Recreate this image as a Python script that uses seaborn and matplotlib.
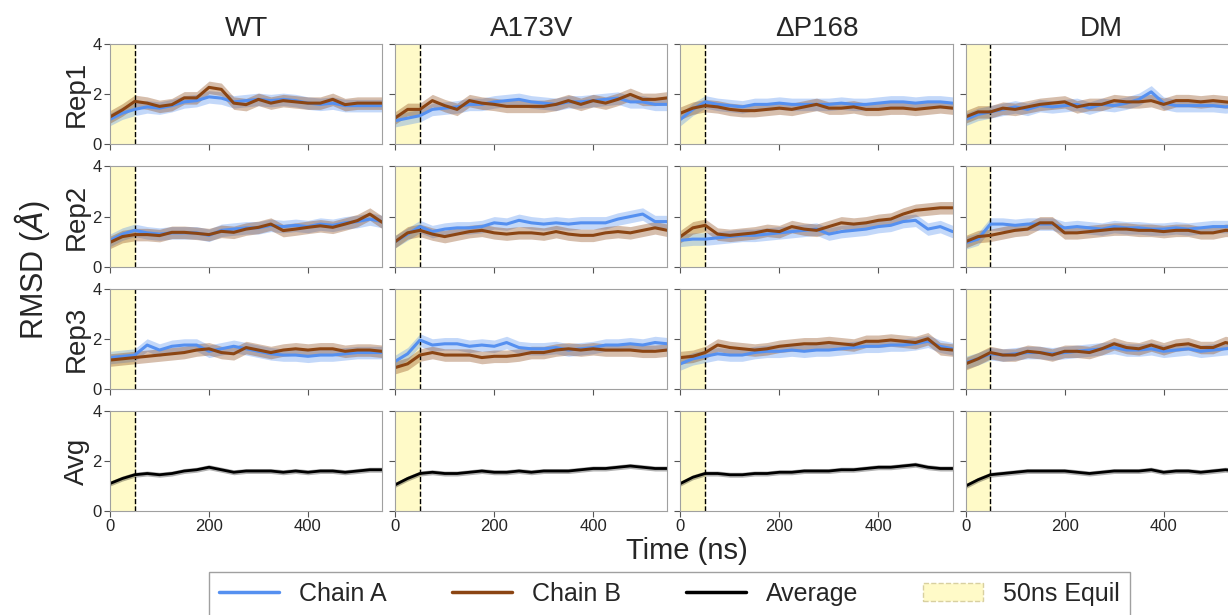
import numpy as np
import pandas as pd
import matplotlib.pyplot as plt
from matplotlib.lines import Line2D
from matplotlib.patches import Patch
import seaborn as sns

# Time axis (ns), values read every 25 ns
time_ns = [0, 25, 50, 75, 100, 125, 150, 175, 200, 225, 250, 275,
           300, 325, 350, 375, 400, 425, 450, 475, 500, 525, 550]

systems = ["WT", "A173V", "ΔP168", "DM"]
reps = ["Rep1", "Rep2", "Rep3"]

# WT
wt_rep1_a = [1.0, 1.25, 1.4, 1.5, 1.45, 1.55, 1.7, 1.75, 1.9, 1.85, 1.7, 1.75, 1.8, 1.75, 1.8, 1.75, 1.65, 1.6, 1.65, 1.55, 1.55, 1.55, 1.55]
wt_rep1_b = [1.1, 1.38, 1.72, 1.65, 1.52, 1.59, 1.86, 1.86, 2.28, 2.2, 1.65, 1.59, 1.8, 1.65, 1.75, 1.7, 1.65, 1.65, 1.8, 1.59, 1.65, 1.65, 1.65]
wt_rep2_a = [1.05, 1.3, 1.45, 1.35, 1.3, 1.35, 1.35, 1.35, 1.25, 1.45, 1.5, 1.55, 1.55, 1.65, 1.6, 1.65, 1.6, 1.7, 1.65, 1.75, 1.8, 1.9, 1.8]
wt_rep2_b = [0.97, 1.2, 1.28, 1.28, 1.24, 1.37, 1.37, 1.33, 1.28, 1.41, 1.37, 1.5, 1.57, 1.7, 1.44, 1.5, 1.57, 1.63, 1.57, 1.7, 1.84, 2.1, 1.77]
wt_rep3_a = [1.25, 1.3, 1.35, 1.75, 1.55, 1.7, 1.75, 1.75, 1.5, 1.6, 1.7, 1.6, 1.5, 1.4, 1.35, 1.35, 1.3, 1.35, 1.35, 1.4, 1.45, 1.45, 1.45]
wt_rep3_b = [1.15, 1.2, 1.25, 1.3, 1.35, 1.4, 1.45, 1.55, 1.6, 1.45, 1.4, 1.65, 1.55, 1.45, 1.55, 1.6, 1.55, 1.6, 1.6, 1.5, 1.55, 1.55, 1.5]
wt_avg = [1.1, 1.3, 1.45, 1.5, 1.45, 1.5, 1.6, 1.65, 1.75, 1.65, 1.55, 1.6, 1.6, 1.6, 1.55, 1.6, 1.55, 1.6, 1.6, 1.55, 1.6, 1.65, 1.65]

# A173V
a173v_rep1_a = [0.95, 1.05, 1.15, 1.4, 1.45, 1.5, 1.6, 1.6, 1.7, 1.75, 1.8, 1.7, 1.65, 1.6, 1.7, 1.7, 1.75, 1.8, 1.85, 1.7, 1.7, 1.6, 1.6]
a173v_rep1_b = [1.06, 1.4, 1.4, 1.75, 1.55, 1.4, 1.75, 1.65, 1.6, 1.52, 1.52, 1.52, 1.52, 1.6, 1.75, 1.6, 1.75, 1.65, 1.8, 2.0, 1.8, 1.8, 1.86]
a173v_rep2_a = [1.0, 1.3, 1.6, 1.4, 1.5, 1.55, 1.55, 1.6, 1.75, 1.7, 1.85, 1.75, 1.7, 1.75, 1.7, 1.75, 1.75, 1.75, 1.9, 2.0, 2.1, 1.8, 1.8]
a173v_rep2_b = [1.0, 1.35, 1.45, 1.3, 1.2, 1.3, 1.4, 1.45, 1.35, 1.3, 1.35, 1.35, 1.3, 1.4, 1.3, 1.25, 1.25, 1.35, 1.4, 1.35, 1.45, 1.55, 1.45]
a173v_rep3_a = [1.1, 1.4, 1.95, 1.75, 1.8, 1.8, 1.7, 1.75, 1.7, 1.85, 1.65, 1.6, 1.6, 1.65, 1.55, 1.6, 1.65, 1.75, 1.75, 1.8, 1.75, 1.85, 1.8]
a173v_rep3_b = [0.85, 1.0, 1.35, 1.45, 1.35, 1.35, 1.35, 1.25, 1.3, 1.3, 1.35, 1.45, 1.45, 1.55, 1.6, 1.55, 1.6, 1.55, 1.55, 1.55, 1.5, 1.5, 1.55]
a173v_avg = [1.05, 1.3, 1.5, 1.55, 1.5, 1.5, 1.55, 1.6, 1.55, 1.55, 1.6, 1.55, 1.6, 1.6, 1.6, 1.65, 1.7, 1.7, 1.75, 1.8, 1.75, 1.7, 1.7]

# ΔP168
dp168_rep1_a = [1.0, 1.4, 1.7, 1.6, 1.55, 1.5, 1.6, 1.6, 1.65, 1.6, 1.6, 1.6, 1.6, 1.65, 1.6, 1.6, 1.65, 1.7, 1.7, 1.65, 1.7, 1.7, 1.65]
dp168_rep1_b = [1.25, 1.45, 1.55, 1.5, 1.4, 1.35, 1.35, 1.4, 1.45, 1.4, 1.5, 1.6, 1.45, 1.45, 1.5, 1.4, 1.4, 1.45, 1.45, 1.4, 1.45, 1.5, 1.45]
dp168_rep2_a = [1.05, 1.1, 1.1, 1.15, 1.2, 1.25, 1.25, 1.3, 1.35, 1.4, 1.45, 1.5, 1.3, 1.4, 1.45, 1.5, 1.6, 1.65, 1.8, 1.85, 1.5, 1.6, 1.4]
dp168_rep2_b = [1.2, 1.55, 1.65, 1.3, 1.25, 1.3, 1.35, 1.45, 1.4, 1.6, 1.5, 1.45, 1.6, 1.75, 1.7, 1.75, 1.85, 1.9, 2.1, 2.25, 2.3, 2.35, 2.35]
dp168_rep3_a = [1.0, 1.2, 1.3, 1.4, 1.35, 1.35, 1.45, 1.5, 1.5, 1.55, 1.5, 1.55, 1.55, 1.6, 1.65, 1.7, 1.7, 1.75, 1.75, 1.8, 1.9, 1.7, 1.6]
dp168_rep3_b = [1.25, 1.3, 1.45, 1.75, 1.65, 1.6, 1.55, 1.6, 1.7, 1.75, 1.8, 1.8, 1.85, 1.8, 1.75, 1.9, 1.9, 1.95, 1.9, 1.85, 2.0, 1.6, 1.55]
dp168_avg = [1.1, 1.35, 1.5, 1.5, 1.45, 1.45, 1.5, 1.5, 1.55, 1.55, 1.6, 1.6, 1.6, 1.65, 1.65, 1.7, 1.75, 1.75, 1.8, 1.85, 1.75, 1.7, 1.7]

# DM
dm_rep1_a = [1.0, 1.2, 1.3, 1.4, 1.5, 1.4, 1.55, 1.5, 1.55, 1.6, 1.45, 1.6, 1.55, 1.65, 1.8, 2.1, 1.65, 1.55, 1.55, 1.55, 1.55, 1.5, 1.55]
dm_rep1_b = [1.1, 1.3, 1.3, 1.45, 1.4, 1.5, 1.6, 1.65, 1.7, 1.5, 1.6, 1.6, 1.75, 1.7, 1.7, 1.75, 1.6, 1.75, 1.75, 1.7, 1.75, 1.7, 1.65]
dm_rep2_a = [0.95, 1.1, 1.7, 1.7, 1.65, 1.7, 1.7, 1.7, 1.55, 1.6, 1.55, 1.5, 1.6, 1.55, 1.55, 1.5, 1.5, 1.55, 1.5, 1.55, 1.6, 1.6, 1.6]
dm_rep2_b = [1.0, 1.2, 1.25, 1.35, 1.45, 1.5, 1.75, 1.75, 1.35, 1.35, 1.4, 1.45, 1.5, 1.5, 1.45, 1.45, 1.4, 1.45, 1.45, 1.35, 1.35, 1.45, 1.45]
dm_rep3_a = [1.05, 1.2, 1.4, 1.35, 1.4, 1.45, 1.45, 1.4, 1.45, 1.5, 1.55, 1.6, 1.65, 1.55, 1.55, 1.6, 1.5, 1.55, 1.6, 1.5, 1.55, 1.6, 1.65]
dm_rep3_b = [1.0, 1.2, 1.45, 1.35, 1.35, 1.5, 1.45, 1.35, 1.5, 1.5, 1.45, 1.6, 1.8, 1.65, 1.6, 1.75, 1.6, 1.75, 1.8, 1.65, 1.65, 1.85, 1.75]
dm_avg = [1.0, 1.25, 1.45, 1.5, 1.55, 1.6, 1.6, 1.6, 1.6, 1.55, 1.5, 1.55, 1.6, 1.6, 1.6, 1.65, 1.55, 1.6, 1.6, 1.55, 1.6, 1.65, 1.6]

chain_a = {
    "WT": [wt_rep1_a, wt_rep2_a, wt_rep3_a],
    "A173V": [a173v_rep1_a, a173v_rep2_a, a173v_rep3_a],
    "ΔP168": [dp168_rep1_a, dp168_rep2_a, dp168_rep3_a],
    "DM": [dm_rep1_a, dm_rep2_a, dm_rep3_a],
}
chain_b = {
    "WT": [wt_rep1_b, wt_rep2_b, wt_rep3_b],
    "A173V": [a173v_rep1_b, a173v_rep2_b, a173v_rep3_b],
    "ΔP168": [dp168_rep1_b, dp168_rep2_b, dp168_rep3_b],
    "DM": [dm_rep1_b, dm_rep2_b, dm_rep3_b],
}
averages = {"WT": wt_avg, "A173V": a173v_avg, "ΔP168": dp168_avg, "DM": dm_avg}

col_a = "#5590f0"
col_b = "#8b4513"
col_equil = "#fffac8"

sns.set_style("ticks", {"axes.edgecolor": "#a0a0a0"})
plt.rcParams["font.family"] = ["Liberation Sans", "DejaVu Sans"]

fig, axes = plt.subplots(4, 4, figsize=(12.28, 6.15), dpi=100, sharex=True, sharey=True)
fig.subplots_adjust(left=0.0896, right=1.008, top=0.928, bottom=0.169,
                    wspace=0.048, hspace=0.22)

t = np.array(time_ns)

def draw_band(ax, y, color, half, alpha):
    y = np.array(y)
    ax.fill_between(t, y - half, y + half, color=color, alpha=alpha, lw=0)

for j, sysname in enumerate(systems):
    for i in range(4):
        ax = axes[i, j]
        ax.axvspan(0, 50, color=col_equil, zorder=0)
        ax.axvline(50, color="black", ls="--", lw=1)
        if i < 3:
            a = chain_a[sysname][i]
            b = chain_b[sysname][i]
            draw_band(ax, a, col_a, 0.25, 0.35)
            draw_band(ax, b, col_b, 0.25, 0.35)
            sns.lineplot(x=t, y=a, ax=ax, color=col_a, lw=2.2)
            sns.lineplot(x=t, y=b, ax=ax, color=col_b, lw=2.2)
        else:
            avg = averages[sysname]
            draw_band(ax, avg, "black", 0.1, 0.3)
            sns.lineplot(x=t, y=avg, ax=ax, color="black", lw=2)
        ax.set_xlim(0, 550)
        ax.set_ylim(0, 4)
        ax.set_yticks([0, 2, 4])
        ax.set_xticks([0, 200, 400])
        ax.tick_params(labelsize=12, length=4, color="#555555", pad=2)
        ax.set_xlabel("")
        ax.set_ylabel("")
        if j == 0:
            ax.set_ylabel(reps[i] if i < 3 else "Avg", fontsize=20, labelpad=2)
    axes[0, j].set_title(sysname, fontsize=20, pad=6)

fig.text(0.026, 0.56, r"RMSD ($\AA$)", rotation=90, fontsize=22, ha="center", va="center")
fig.text(0.559, 0.104, "Time (ns)", fontsize=21, ha="center", va="center")

handles = [
    Line2D([0], [0], color=col_a, lw=2.5),
    Line2D([0], [0], color=col_b, lw=2.5),
    Line2D([0], [0], color="black", lw=2.5),
    Patch(facecolor=col_equil, edgecolor="#d8d0a0", ls="--"),
]
labels = ["Chain A", "Chain B", "Average", "50ns Equil"]
fig.legend(handles, labels, loc="upper center", bbox_to_anchor=(0.545, 0.07),
           ncol=4, fontsize=18, frameon=True, handlelength=2.4,
           columnspacing=2.6, handletextpad=0.8, edgecolor="#888888",
           fancybox=False, borderaxespad=0)

plt.savefig("out.png", dpi=100)
